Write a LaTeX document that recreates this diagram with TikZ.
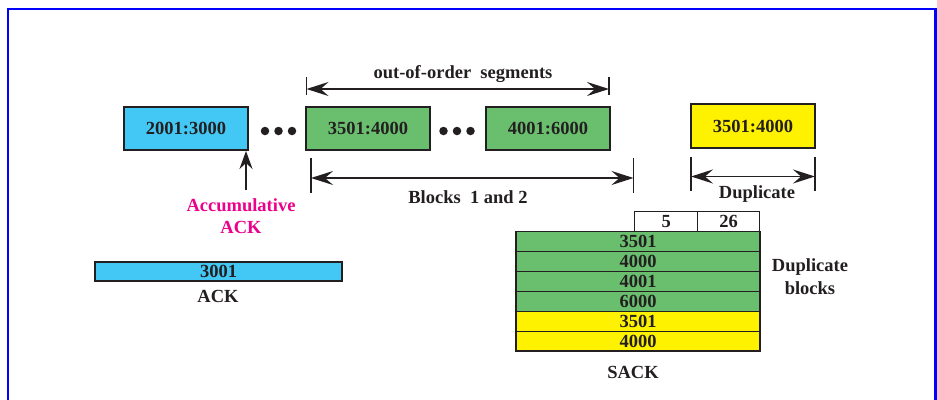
\documentclass[tikz,border=0pt]{standalone}
\usepackage{fontspec}
\setmainfont{Liberation Serif}
\usetikzlibrary{arrows.meta}
\definecolor{ink}{HTML}{231F20}
\definecolor{segblue}{HTML}{43C7F4}
\definecolor{seggreen}{HTML}{6ABF6F}
\definecolor{segyellow}{HTML}{FFF200}
\definecolor{accpink}{HTML}{EC008C}
\definecolor{framecol}{HTML}{0000FF}
\tikzset{
  lbl/.style={text=ink, font=\fontsize{18.5}{20}\selectfont\bfseries, inner sep=0pt},
  segbox/.style={draw=ink, line width=2pt, minimum width=124pt, minimum height=43pt, lbl},
  dot/.style={circle, fill=ink, minimum size=8.5pt, inner sep=0pt},
  headtip/.style={Stealth[length=22pt,width=14pt,inset=8pt]},
  dimline/.style={draw=ink, line width=1.8pt, {Stealth[length=22pt,width=14pt,inset=8pt]}-{Stealth[length=22pt,width=14pt,inset=8pt]}},
  tick/.style={draw=ink, line width=1.8pt},
  rowbox/.style={draw=ink, line width=1.2pt, minimum width=244pt, minimum height=19.9pt, lbl},
  cellbox/.style={draw=ink, line width=1pt, minimum width=62.5pt, minimum height=20pt, fill=white, lbl}
}
\begin{document}
\begin{tikzpicture}[x=1pt,y=-1pt]
\useasboundingbox (0,0) rectangle (937,399);
% frame
\draw[framecol, line width=2.2pt] (8,402) -- (8,9) -- (935.5,9) -- (935.5,402);

% segments
\node[segbox, fill=segblue] (s1) at (186,128.5) {2001:3000};
\node[dot] (d1) at (265,131) {};
\node[dot] (d2) at (278.5,131) {};
\node[dot] (d3) at (292,131) {};
\node[segbox, fill=seggreen] (s2) at (368,128) {3501:4000};
\node[dot] (d4) at (443.5,131) {};
\node[dot] (d5) at (457,131) {};
\node[dot] (d6) at (470.5,131) {};
\node[segbox, fill=seggreen] (s3) at (548,128) {4001:6000};
\node[segbox, fill=segyellow, minimum height=44pt] (s4) at (753,126) {3501:4000};

% out-of-order span
\coordinate (oL) at (306.5,89);
\coordinate (oR) at (609,89);
\draw[tick] (306.5,77) -- (306.5,95);
\draw[tick] (609,77) -- (609,95);
\draw[dimline] (oL) -- (oR);
\node[lbl] (ooo) at (463,74) {out-of-order\ \ segments};

% blocks span
\coordinate (bL) at (311,178);
\coordinate (bR) at (633.5,178);
\draw[tick] (311,158) -- (311,193);
\draw[tick] (633.5,158) -- (633.5,193);
\draw[dimline] (bL) -- (bR);
\node[lbl] (blk) at (468,197) {Blocks\ \ 1 and 2};

% duplicate span
\coordinate (uL) at (691,176.5);
\coordinate (uR) at (815,176.5);
\draw[tick] (691,157) -- (691,191);
\draw[tick] (815,157) -- (815,191);
\draw[dimline] (uL) -- (uR);
\node[lbl] (dup) at (757,194) {Duplicate};

% accumulative ACK pointer
\coordinate (accT) at (246,190);
\draw[ink, line width=1.8pt, -{Stealth[length=18pt,width=13pt,inset=6pt]}] (accT) -- (accT |- s1.south);
\node[lbl, text=accpink, align=center] (acc) at (241,216) {Accumulative\\[2pt]ACK};

% ACK segment
\node[draw=ink, line width=1.2pt, fill=segblue, minimum width=247pt, minimum height=19pt, lbl] (ack) at (218.5,271.5) {3001};
\node[lbl] (ackl) at (218,296) {ACK};

% SACK segment
\node[cellbox] (c1) at (666.2,221.8) {5};
\node[cellbox] (c2) at (728.7,221.8) {26};
\node[rowbox, fill=seggreen]  (r1) at (638,241.6) {3501};
\node[rowbox, fill=seggreen]  (r2) at (638,261.5) {4000};
\node[rowbox, fill=seggreen]  (r3) at (638,281.4) {4001};
\node[rowbox, fill=seggreen]  (r4) at (638,301.3) {6000};
\node[rowbox, fill=segyellow] (r5) at (638,321.2) {3501};
\node[rowbox, fill=segyellow] (r6) at (638,341.1) {4000};
\node[lbl, align=center] (dupb) at (810,276.5) {Duplicate\\[3pt]blocks};
\node[lbl] (sack) at (633,372) {SACK};
\end{tikzpicture}
\end{document}
